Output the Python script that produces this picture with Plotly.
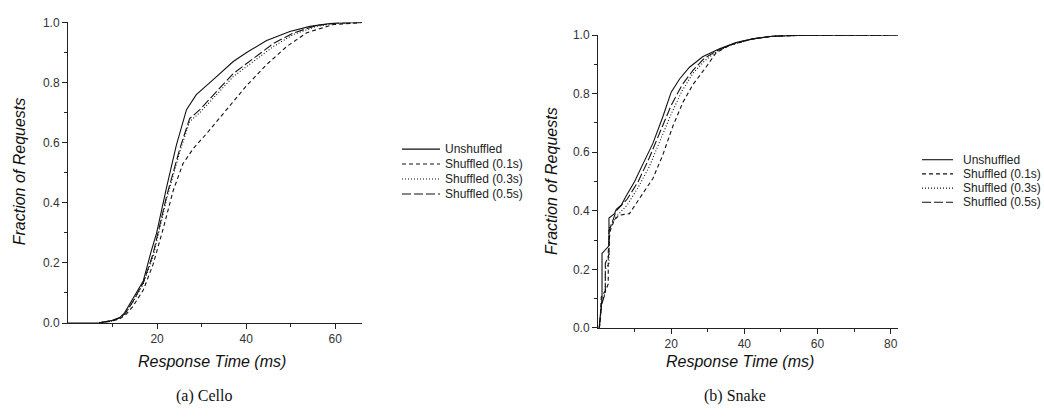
import plotly.graph_objects as go

# ---- Cello trace: response-time CDFs (ms, fraction) ----
cello_unshuf_x = [0, 5, 7, 9.7, 11.6, 12.7, 14.6, 16.9, 18.7, 19.9, 22.1, 24.3, 26.6, 28.8, 32.6, 37.1, 40.1, 44.6, 49.8, 54.3, 59.6, 66]
cello_unshuf_y = [0, 0, 0.001, 0.008, 0.018, 0.034, 0.08, 0.14, 0.24, 0.30, 0.45, 0.59, 0.71, 0.76, 0.81, 0.87, 0.90, 0.94, 0.97, 0.987, 0.998, 1.0]

cello_s01_x = [7, 9.7, 11.6, 13.0, 14.6, 16.9, 19.1, 21.3, 23.6, 25.8, 28.1, 31.1, 35.6, 40.1, 44.6, 49.1, 53.6, 59.6, 66]
cello_s01_y = [0.001, 0.006, 0.014, 0.028, 0.056, 0.11, 0.195, 0.31, 0.44, 0.53, 0.58, 0.63, 0.71, 0.79, 0.86, 0.92, 0.966, 0.993, 1.0]

cello_s03_x = [7, 9.7, 11.6, 12.8, 14.6, 16.9, 19.1, 22.1, 25.1, 27.3, 29.6, 33.3, 37.1, 41.6, 46.1, 50.6, 55.8, 60.5, 66]
cello_s03_y = [0.001, 0.007, 0.016, 0.03, 0.07, 0.13, 0.22, 0.41, 0.57, 0.67, 0.70, 0.76, 0.82, 0.87, 0.92, 0.96, 0.987, 0.997, 1.0]

cello_s05_x = [7, 9.7, 11.6, 12.8, 14.6, 16.9, 19.1, 22.1, 25.1, 27.3, 29.6, 33.3, 37.1, 41.6, 46.1, 50.6, 55.8, 60.5, 66]
cello_s05_y = [0.001, 0.007, 0.017, 0.031, 0.072, 0.135, 0.23, 0.42, 0.58, 0.68, 0.71, 0.77, 0.83, 0.88, 0.93, 0.965, 0.99, 0.998, 1.0]

# ---- Snake trace: response-time CDFs (ms, fraction) ----
snake_unshuf_x = [0.3, 0.45, 0.8, 1.1, 1.1, 2.7, 3.0, 3.0, 4.5, 5.0, 6.4, 7.7, 10.0, 12.3, 15.0, 17.7, 20.0, 22.3, 25.0, 28.6, 33.2, 37.7, 42.3, 47.7, 56.0, 82]
snake_unshuf_y = [0.0, 0.018, 0.05, 0.10, 0.254, 0.276, 0.28, 0.375, 0.39, 0.405, 0.42, 0.45, 0.50, 0.56, 0.63, 0.72, 0.805, 0.85, 0.89, 0.926, 0.953, 0.974, 0.987, 0.996, 0.999, 1.0]

snake_s01_x = [0.4, 0.6, 0.9, 2.1, 2.8, 2.8, 3.3, 4.5, 5.9, 8.6, 12.3, 15.0, 17.7, 20.5, 23.2, 25.9, 29.5, 32.3, 36.0, 42.3, 47.7, 56.0, 82]
snake_s01_y = [0.0, 0.03, 0.106, 0.128, 0.15, 0.26, 0.33, 0.37, 0.385, 0.39, 0.46, 0.51, 0.59, 0.69, 0.77, 0.83, 0.89, 0.94, 0.965, 0.987, 0.996, 0.999, 1.0]

snake_s03_x = [0.35, 0.6, 1.0, 2.0, 2.0, 3.0, 3.0, 5.0, 8.0, 11.0, 14.0, 17.0, 20.0, 23.0, 26.0, 29.0, 32.0, 36.0, 42.3, 47.7, 56.0, 82]
snake_s03_y = [0.0, 0.03, 0.09, 0.12, 0.20, 0.22, 0.34, 0.38, 0.42, 0.48, 0.55, 0.64, 0.73, 0.81, 0.87, 0.91, 0.94, 0.965, 0.987, 0.996, 0.999, 1.0]

snake_s05_x = [0.35, 0.6, 1.0, 1.5, 2.0, 2.0, 3.0, 3.0, 5.0, 8.0, 11.0, 14.0, 17.0, 20.0, 23.0, 26.0, 29.0, 33.0, 37.7, 42.3, 47.7, 56.0, 82]
snake_s05_y = [0.0, 0.03, 0.08, 0.10, 0.12, 0.22, 0.25, 0.33, 0.40, 0.44, 0.50, 0.58, 0.67, 0.76, 0.83, 0.88, 0.92, 0.95, 0.973, 0.987, 0.996, 0.999, 1.0]

series_names = ["Unshuffled", "Shuffled (0.1s)", "Shuffled (0.3s)", "Shuffled (0.5s)"]
dash_styles = ["solid", "4px,3px", "1px,2px", "9px,3px"]

x_ticks = [20, 40, 60, 80]
y_ticks = [0.0, 0.2, 0.4, 0.6, 0.8, 1.0]
y_tick_text = ["0.0", "0.2", "0.4", "0.6", "0.8", "1.0"]

W, H = 1044, 418
LINE_COLOR = "#111111"


def px_x(p):
    return p / W


def px_y(p):
    return 1 - p / H


fig = go.Figure()

cello = [(cello_unshuf_x, cello_unshuf_y), (cello_s01_x, cello_s01_y),
         (cello_s03_x, cello_s03_y), (cello_s05_x, cello_s05_y)]
snake = [(snake_unshuf_x, snake_unshuf_y), (snake_s01_x, snake_s01_y),
         (snake_s03_x, snake_s03_y), (snake_s05_x, snake_s05_y)]

for (xs, ys), name, dash in zip(cello, series_names, dash_styles):
    fig.add_trace(go.Scatter(x=xs, y=ys, name=name, mode="lines", showlegend=False,
                             line=dict(color=LINE_COLOR, width=1.1, dash=dash),
                             xaxis="x", yaxis="y"))

for (xs, ys), name, dash in zip(snake, series_names, dash_styles):
    fig.add_trace(go.Scatter(x=xs, y=ys, name=name, mode="lines", showlegend=False,
                             line=dict(color=LINE_COLOR, width=1.1, dash=dash),
                             xaxis="x2", yaxis="y2"))

tick_font = dict(family="Liberation Sans, Arial, sans-serif", size=12, color="#333333")
axis_common = dict(showline=True, linecolor="#222222", linewidth=1, ticks="outside",
                   tickcolor="#222222", ticklen=5, tickwidth=1, showgrid=False,
                   zeroline=False, tickfont=tick_font, fixedrange=True)
minor_common = dict(ticklen=3, ticks="outside", tickcolor="#222222")

fig.update_layout(
    width=W, height=H, margin=dict(l=0, r=0, t=0, b=0),
    paper_bgcolor="white", plot_bgcolor="white",
    showlegend=False,
    xaxis=dict(domain=[px_x(68), px_x(362)], range=[0, 66], anchor="y",
               tickvals=x_ticks, minor=dict(tickvals=[10, 30, 50], **minor_common),
               **axis_common),
    yaxis=dict(domain=[px_y(327), px_y(16)], range=[0, 1.0], anchor="x",
               tickvals=y_ticks, ticktext=y_tick_text,
               minor=dict(tickvals=[0.1, 0.3, 0.5, 0.7, 0.9], **minor_common),
               **axis_common),
    xaxis2=dict(domain=[px_x(598), px_x(898)], range=[0, 82], anchor="y2",
                tickvals=x_ticks, minor=dict(tickvals=[10, 30, 50, 70], **minor_common),
                **axis_common),
    yaxis2=dict(domain=[px_y(332), px_y(29)], range=[0, 1.0], anchor="x2",
                tickvals=y_ticks, ticktext=y_tick_text,
                minor=dict(tickvals=[0.1, 0.3, 0.5, 0.7, 0.9], **minor_common),
                **axis_common),
)

# Legend keys: a line sample plus label for each series, one block per panel
legend_font = dict(family="Liberation Sans, Arial, sans-serif", size=12, color="#222222")
legend_blocks = [
    dict(x0=402, x1=440, tx=443, rows=[147, 162.5, 178, 193.5]),
    dict(x0=922, x1=953, tx=961, rows=[158, 172.7, 187.4, 202]),
]
for blk in legend_blocks:
    for name, dash, ry in zip(series_names, dash_styles, blk["rows"]):
        fig.add_shape(type="line", xref="paper", yref="paper",
                      x0=px_x(blk["x0"]), x1=px_x(blk["x1"]), y0=px_y(ry), y1=px_y(ry),
                      line=dict(color=LINE_COLOR, width=1.1, dash=dash))
        fig.add_annotation(xref="paper", yref="paper", showarrow=False,
                           x=px_x(blk["tx"]), y=px_y(ry), xanchor="left", yanchor="middle",
                           text=name, font=legend_font)

title_font = dict(family="Liberation Sans, Arial, sans-serif", size=16, color="#111111")
caption_font = dict(family="Liberation Serif, Times New Roman, serif", size=16, color="#111111")

annots = [
    dict(x=px_x(212), y=px_y(367), text="<i>Response Time (ms)</i>", font=title_font),
    dict(x=px_x(740), y=px_y(367), text="<i>Response Time (ms)</i>", font=title_font),
    dict(x=px_x(19), y=px_y(170), text="<i>Fraction of Requests</i>", font=title_font, textangle=-90),
    dict(x=px_x(552), y=px_y(180), text="<i>Fraction of Requests</i>", font=title_font, textangle=-90),
    dict(x=px_x(204), y=px_y(402), text="(a) Cello", font=caption_font),
    dict(x=px_x(735), y=px_y(402), text="(b) Snake", font=caption_font),
]
for a in annots:
    fig.add_annotation(xref="paper", yref="paper", showarrow=False,
                       xanchor="center", yanchor="middle", **a)

fig.write_html("out.html")
